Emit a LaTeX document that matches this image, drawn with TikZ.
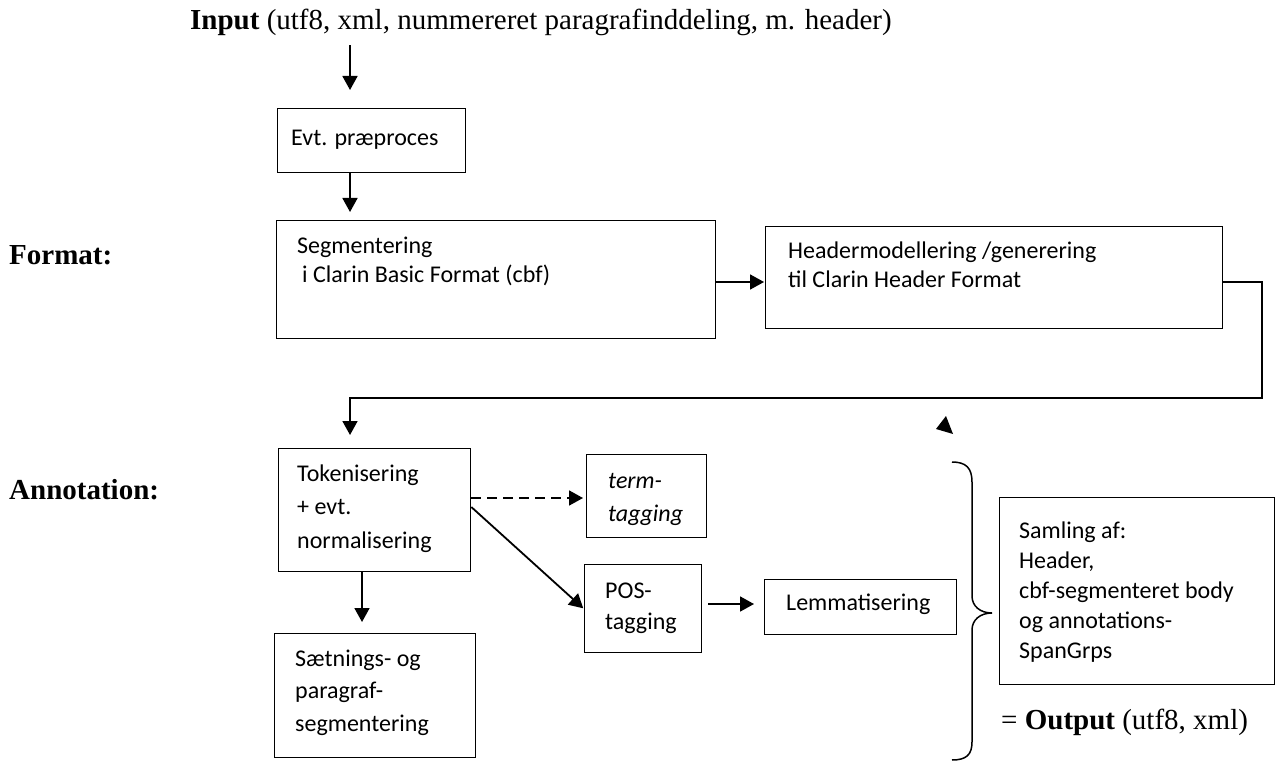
\documentclass[tikz,border=0pt]{standalone}
\usepackage{fontspec}
\setmainfont{Liberation Serif}
\newfontfamily\calib{Carlito}
\usetikzlibrary{arrows.meta}
\begin{document}
\begin{tikzpicture}[x=1pt,y=-1pt,
  box/.style={draw, line width=1.3pt, inner sep=0pt, anchor=north west},
  arr/.style={line width=1.8pt, -{Triangle[length=14pt,width=15pt]}},
  dasharr/.style={arr, dash pattern=on 10pt off 6pt},
  ctext/.style={font=\calib\fontsize{24}{#1}\selectfont, inner sep=0pt, anchor=north west, align=left},
  ttext/.style={font=\fontsize{29}{35}\selectfont, inner sep=0pt, anchor=base west},
  bracestyle/.style={line width=1.5pt}]
\useasboundingbox (0,0) rectangle (1277,762);
% labels
\node[ttext] (input) at (190,30) {\textbf{Input} (utf8, xml, nummereret paragrafinddeling, m. header)};
\node[ttext] (format) at (9,265) {\textbf{Format:}};
\node[ttext] (annot) at (9,499) {\textbf{Annotation:}};
\node[ttext] (output) at (1001,729) {= \textbf{Output} (utf8, xml)};
% boxes
\node[box, minimum width=188pt, minimum height=64pt] (evt) at (277,108) {};
\node[box, minimum width=439pt, minimum height=118pt] (seg) at (276,220) {};
\node[box, minimum width=457pt, minimum height=102pt] (head) at (765,226) {};
\node[box, minimum width=192pt, minimum height=123pt] (tok) at (278,448) {};
\node[box, minimum width=120pt, minimum height=83pt] (term) at (586,454) {};
\node[box, minimum width=117pt, minimum height=88pt] (pos) at (584,564) {};
\node[box, minimum width=192pt, minimum height=55pt] (lem) at (764,579) {};
\node[box, minimum width=201pt, minimum height=124pt] (saet) at (274,633) {};
\node[box, minimum width=275pt, minimum height=187pt] (sam) at (999,497) {};
% box texts
\node[font=\calib\fontsize{24}{29}\selectfont, inner sep=0pt, anchor=base west] (evtt) at (291,146) {Evt. præproces};
\node[ctext=29] (segt) at (297,232.7) {\strut Segmentering\\\strut\hspace*{5pt}i Clarin Basic Format (cbf)};
\node[ctext=29] (headt) at (788,237.7) {\strut Headermodellering /generering\\\strut til Clarin Header Format};
\node[ctext=33.5] (tokt) at (297,457.5) {\strut Tokenisering\\\strut + evt.\\\strut normalisering};
\node[ctext=33] (termt) at (608,464.9) {\strut\itshape term-\\\strut\itshape tagging};
\node[ctext=31] (post) at (605,576.3) {\strut POS-\\\strut tagging};
\node[font=\calib\fontsize{24}{29}\selectfont, inner sep=0pt, anchor=base west] (lemt) at (786,610) {Lemmatisering};
\node[ctext=32.5] (saett) at (295,643.25) {\strut Sætnings- og\\\strut paragraf-\\\strut segmentering};
\node[ctext=30] (samt) at (1019,517) {\strut Samling af:\\\strut Header,\\\strut cbf-segmenteret body\\\strut og annotations-\\\strut SpanGrps};
% helper coordinates
\coordinate (ax) at (350,0);
\coordinate (bx) at (362,0);
\coordinate (ay) at (0,282);
\coordinate (rc) at (1262,398);
\coordinate (dy) at (0,498);
\coordinate (d1) at (0,507);
\coordinate (d2) at (0,609);
\coordinate (py) at (0,604);
% connectors
\draw[arr, shorten <=9pt, shorten >=18pt] (input.south -| ax) -- (evt.north -| ax);
\draw[arr, shorten >=8pt] (evt.south -| ax) -- (seg.north -| ax);
\draw[arr, shorten >=1pt] (seg.east |- ay) -- (head.west |- ay);
\draw[arr, shorten >=13pt] (head.east |- ay) -| (rc) -| (tok.north -| ax);
\draw[dasharr, shorten >=3pt] (tok.east |- dy) -- (term.west |- dy);
\draw[arr, shorten >=1pt] (tok.east |- d1) -- (pos.west |- d2);
\draw[arr, shorten <=6pt, shorten >=10pt] (pos.east |- py) -- (lem.west |- py);
\draw[arr, shorten >=11pt] (tok.south -| bx) -- (saet.north -| bx);
% stray arrowhead
\fill (946,416) -- (936,429) -- (953,434) -- cycle;
% brace
\draw[bracestyle] (952,462) .. controls (966,462) and (972,468) .. (972,482) -- (972,596)
  .. controls (972,606) and (980,613) .. (992,613)
  .. controls (980,613) and (972,620) .. (972,630) -- (972,742)
  .. controls (972,755) and (966,760) .. (952,760);
\end{tikzpicture}
\end{document}
